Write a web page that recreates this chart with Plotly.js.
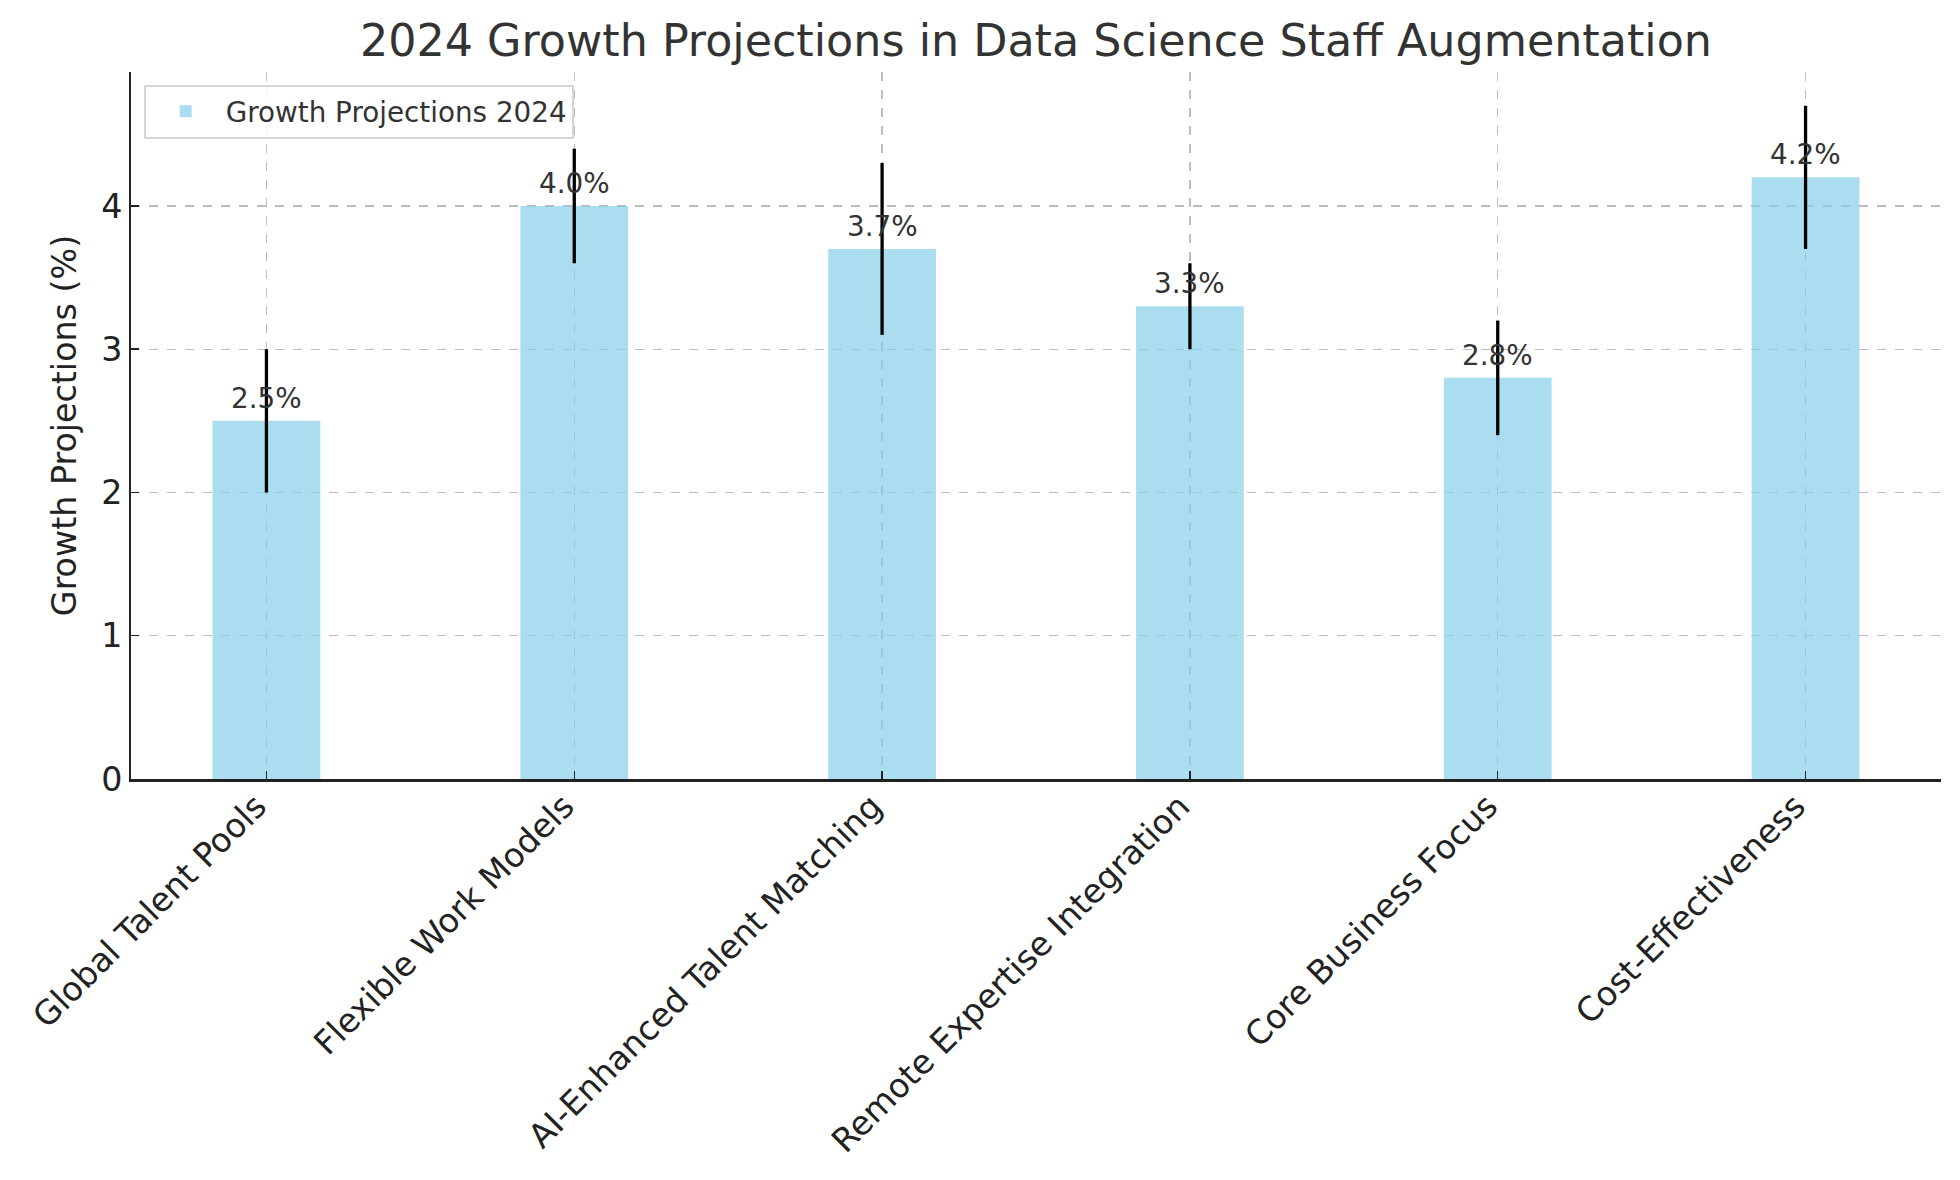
<!DOCTYPE html>
<html>
<head>
<meta charset="utf-8">
<script src="https://cdn.plot.ly/plotly-3.0.1.min.js"></script>
<style>
  html, body { margin: 0; padding: 0; background: #ffffff; }
  #chart { width: 1960px; height: 1180px; }
</style>
</head>
<body>
<div id="chart"></div>
<script>
// Chart data
const categories = [
  'Global Talent Pools',
  'Flexible Work Models',
  'AI-Enhanced Talent Matching',
  'Remote Expertise Integration',
  'Core Business Focus',
  'Cost-Effectiveness'
];
const growthValues = [2.5, 4.0, 3.7, 3.3, 2.8, 4.2];
const growthErrors = [0.5, 0.4, 0.6, 0.3, 0.4, 0.5];
const valueLabels = ['2.5%', '4.0%', '3.7%', '3.3%', '2.8%', '4.2%'];
const yTicks = [0, 1, 2, 3, 4];

const fontFamily = 'DejaVu Sans, sans-serif';
const gridColor = '#bdbdbd';

var growthTrace = {
  x: categories,
  y: growthValues,
  type: 'bar',
  name: 'Growth Projections 2024',
  width: 0.35,
  marker: { color: 'rgba(135, 206, 235, 0.7)', line: { width: 0 } },
  error_y: {
    type: 'data',
    array: growthErrors,
    visible: true,
    color: '#000000',
    thickness: 3.3,
    width: 0,
  },
  hoverinfo: 'skip',
};

// value labels just above each bar
var labelAnnotations = categories.map((cat, i) => ({
  x: cat,
  y: growthValues[i],
  xref: 'x',
  yref: 'y',
  text: valueLabels[i],
  showarrow: false,
  yanchor: 'bottom',
  yshift: 4,
  font: { family: fontFamily, size: 27.8, color: '#333333' },
}));

var layout = {
  width: 1960,
  height: 1180,
  margin: { l: 131, r: 19, t: 72, b: 401, pad: 0 },
  paper_bgcolor: '#ffffff',
  plot_bgcolor: '#ffffff',
  font: { family: fontFamily, size: 33.3, color: '#222222' },
  title: {
    text: '2024 Growth Projections in Data Science Staff Augmentation',
    font: { family: fontFamily, size: 44.4, color: '#333333' },
    x: 0.5,
    xref: 'paper',
    xanchor: 'center',
    y: 0.966,
    yref: 'container',
    yanchor: 'middle',
  },
  showlegend: true,
  legend: {
    x: 0.007,
    y: 0.982,
    xanchor: 'left',
    yanchor: 'top',
    itemwidth: 70,
    bgcolor: 'rgba(255,255,255,0.8)',
    bordercolor: '#d6d6d6',
    borderwidth: 2,
    font: { family: fontFamily, size: 27.8, color: '#333333' },
  },
  xaxis: {
    type: 'category',
    range: [-0.44, 5.44],
    tickangle: -45,
    ticklabelshift: -10,
    ticklabelstandoff: -8,
    ticks: 'inside',
    ticklen: 8,
    tickwidth: 1.5,
    tickcolor: '#222222',
    showline: true,
    linecolor: '#222222',
    linewidth: 2.5,
    showgrid: true,
    gridcolor: gridColor,
    gridwidth: 1.3,
    griddash: 'dash',
    tickfont: { family: fontFamily, size: 33.3, color: '#222222' },
    zeroline: false,
  },
  yaxis: {
    range: [0, 4.935],
    tickvals: yTicks,
    ticks: 'inside',
    ticklen: 8,
    tickwidth: 1.5,
    tickcolor: '#222222',
    showline: true,
    linecolor: '#222222',
    linewidth: 2,
    showgrid: true,
    gridcolor: gridColor,
    gridwidth: 1.3,
    griddash: 'dash',
    zeroline: false,
    tickfont: { family: fontFamily, size: 33.3, color: '#222222' },
    title: {
      text: 'Growth Projections (%)',
      font: { family: fontFamily, size: 33.3, color: '#222222' },
      standoff: 14,
    },
  },
  annotations: labelAnnotations,
};

var config = { responsive: false, displayModeBar: false, staticPlot: true };

Plotly.newPlot('chart', [growthTrace], layout, config);
</script>
</body>
</html>
